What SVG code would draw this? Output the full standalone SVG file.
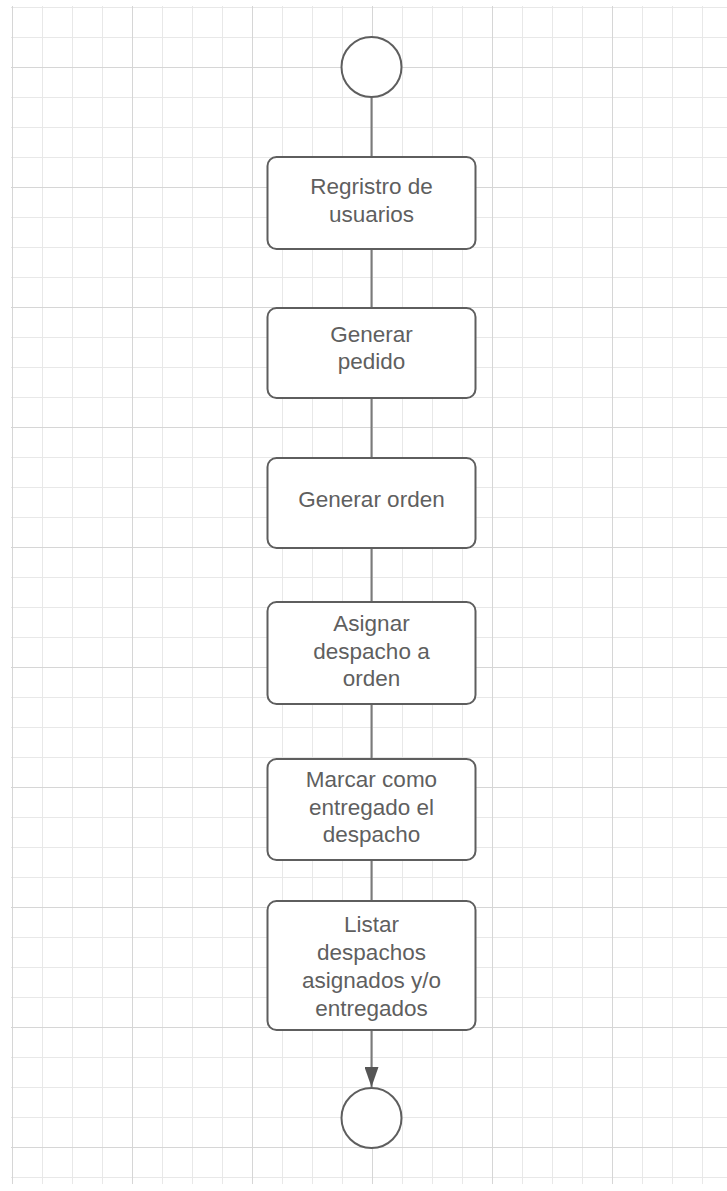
<svg xmlns="http://www.w3.org/2000/svg" width="727" height="1191" viewBox="0 0 727 1191">
  <style>
    .node rect { fill: #ffffff; stroke: #5e5e5e; stroke-width: 2; }
    .node circle { fill: #ffffff; stroke: #5e5e5e; stroke-width: 2; }
    .node text { font-family: "Liberation Sans", Arial, sans-serif; font-size: 22.5px; fill: #5f5f5f; text-anchor: middle; }
    .conn { stroke: #7a7a7a; stroke-width: 2; fill: none; }
  </style>
  <defs>
    <pattern id="minor" patternUnits="userSpaceOnUse" x="12" y="7" width="30" height="30">
      <path d="M0 0.5 H30 M0.5 0 V30" stroke="#e8e8e8" stroke-width="1" fill="none"/>
    </pattern>
    <pattern id="major" patternUnits="userSpaceOnUse" x="12" y="67" width="120" height="120">
      <path d="M0 0.5 H120 M0.5 0 V120" stroke="#d6d6d6" stroke-width="1" fill="none"/>
    </pattern>
    <marker id="arrow" markerWidth="20" markerHeight="14" refX="20" refY="7" orient="auto" markerUnits="userSpaceOnUse" viewBox="0 0 20 14">
      <path d="M0 0 L20 7 L0 14 Z" fill="#555555"/>
    </marker>
  </defs>
  <rect x="0" y="0" width="727" height="1191" fill="#ffffff"/>
  <g id="grid">
    <rect x="11" y="6" width="716" height="1178" fill="url(#minor)"/>
    <rect x="11" y="6" width="716" height="1178" fill="url(#major)"/>
  </g>
  <g id="connectors">
    <line class="conn" x1="371.5" y1="97" x2="371.5" y2="157"/>
    <line class="conn" x1="371.5" y1="249" x2="371.5" y2="308"/>
    <line class="conn" x1="371.5" y1="398" x2="371.5" y2="458"/>
    <line class="conn" x1="371.5" y1="548" x2="371.5" y2="602"/>
    <line class="conn" x1="371.5" y1="704" x2="371.5" y2="759"/>
    <line class="conn" x1="371.5" y1="860" x2="371.5" y2="901"/>
    <line class="conn" x1="371.5" y1="1030" x2="371.5" y2="1087" marker-end="url(#arrow)"/>
  </g>
  <g id="start" class="node">
    <circle cx="371.5" cy="67" r="30"/>
  </g>
  <g id="n1" class="node">
    <rect x="267.5" y="157" width="208" height="92" rx="9"/>
    <text x="371.5" y="194">Regristro de</text>
    <text x="371.5" y="222">usuarios</text>
  </g>
  <g id="n2" class="node">
    <rect x="267.5" y="308" width="208" height="90" rx="9"/>
    <text x="371.5" y="342">Generar</text>
    <text x="371.5" y="369">pedido</text>
  </g>
  <g id="n3" class="node">
    <rect x="267.5" y="458" width="208" height="90" rx="9"/>
    <text x="371.5" y="507">Generar orden</text>
  </g>
  <g id="n4" class="node">
    <rect x="267.5" y="602" width="208" height="102" rx="9"/>
    <text x="371.5" y="631">Asignar</text>
    <text x="371.5" y="659">despacho a</text>
    <text x="371.5" y="686">orden</text>
  </g>
  <g id="n5" class="node">
    <rect x="267.5" y="759" width="208" height="101" rx="9"/>
    <text x="371.5" y="787">Marcar como</text>
    <text x="371.5" y="815">entregado el</text>
    <text x="371.5" y="842">despacho</text>
  </g>
  <g id="n6" class="node">
    <rect x="267.5" y="901" width="208" height="129" rx="9"/>
    <text x="371.5" y="932">Listar</text>
    <text x="371.5" y="960">despachos</text>
    <text x="371.5" y="988">asignados y/o</text>
    <text x="371.5" y="1016">entregados</text>
  </g>
  <g id="end" class="node">
    <circle cx="371.5" cy="1118" r="30"/>
  </g>
</svg>
